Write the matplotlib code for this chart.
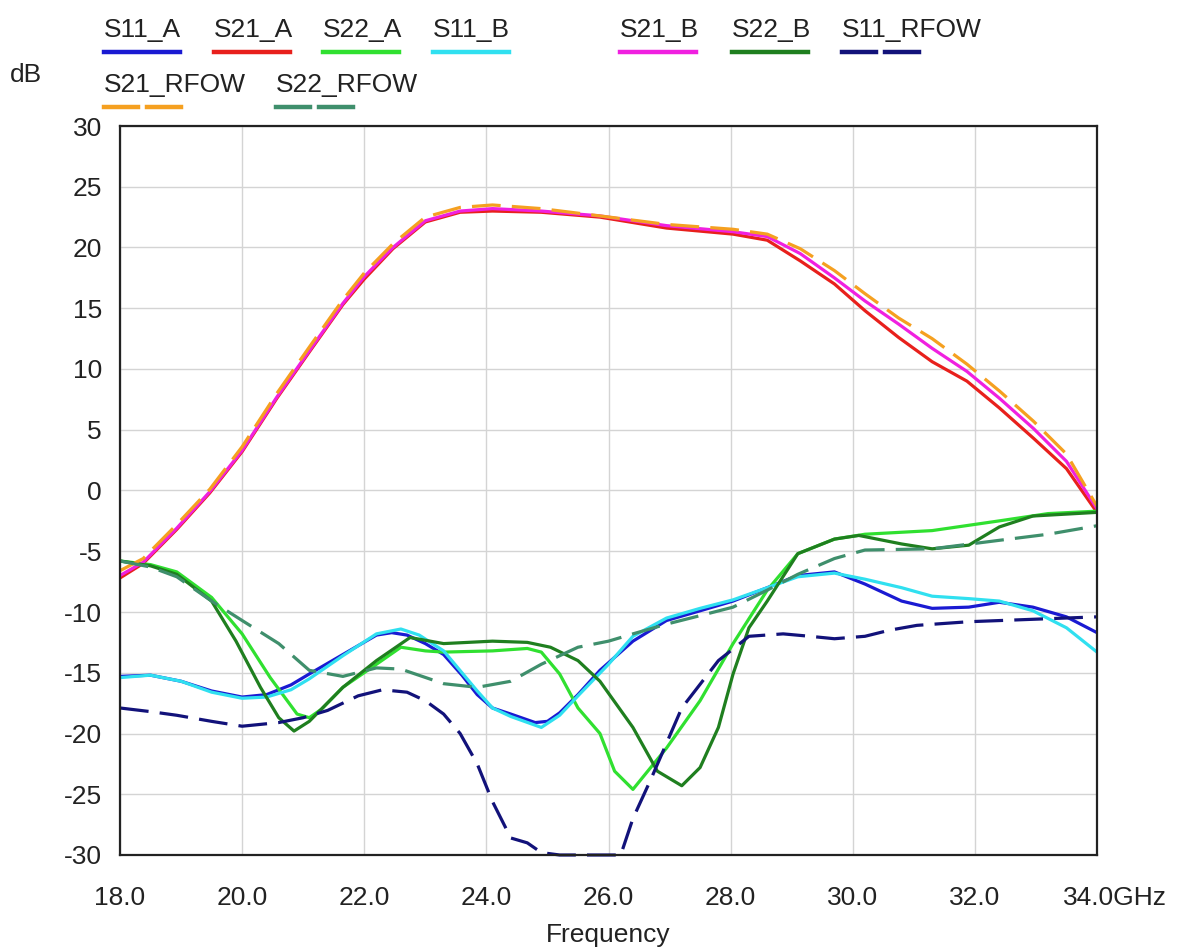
# S-Parameter-Vergleich A / B / RFOW, 18 - 34 GHz.

import matplotlib
matplotlib.use("Agg")
import matplotlib.pyplot as plt  # noqa: E402
from matplotlib.lines import Line2D  # noqa: E402
from matplotlib.transforms import ScaledTranslation  # noqa: E402

plt.rcParams["font.family"] = ["Liberation Sans", "DejaVu Sans"]
plt.rcParams["axes.unicode_minus"] = False

# region daten
f_s11_a = [18.0, 18.5, 19.0, 19.5, 20.0, 20.4, 20.8, 21.1, 21.65, 22.2, 22.45,
           22.7, 23.0, 23.3, 23.6, 23.85, 24.1, 24.4, 24.8, 25.0, 25.2, 25.5,
           25.86, 26.4, 26.95, 27.5, 28.04, 28.6, 29.1, 29.7, 30.2, 30.8, 31.3,
           31.9, 32.4, 32.95, 33.5, 34.0]
s11_a = [-15.3, -15.2, -15.7, -16.5, -17.0, -16.8, -16.0, -15.1, -13.5, -11.9,
         -11.7, -11.9, -12.6, -13.5, -15.2, -16.8, -17.9, -18.4, -19.1, -19.0,
         -18.3, -16.8, -14.8, -12.4, -10.7, -9.9, -9.1, -8.0, -7.0, -6.7, -7.7,
         -9.1, -9.7, -9.6, -9.2, -9.6, -10.4, -11.7]

f_s21 = [18.0, 18.38, 18.93, 19.47, 20.0, 20.57, 21.1, 21.65, 22.0, 22.47,
         23.0, 23.57, 24.1, 24.9, 25.86, 26.95, 28.04, 28.6, 29.14, 29.7,
         30.2, 30.75, 31.3, 31.87, 32.4, 32.96, 33.5, 34.0]
s21_a = [-7.2, -6.0, -3.2, -0.2, 3.2, 7.6, 11.4, 15.3, 17.4, 19.9, 22.1, 22.9,
         23.0, 22.9, 22.5, 21.6, 21.1, 20.6, 18.9, 17.0, 14.8, 12.6, 10.6, 9.0,
         6.8, 4.3, 1.8, -1.8]

f_s22_a = [18.0, 18.5, 18.93, 19.5, 20.0, 20.46, 20.9, 21.1, 21.3, 21.65, 22.2,
           22.6, 23.0, 23.3, 24.1, 24.67, 24.9, 25.2, 25.5, 25.86, 26.1, 26.4,
           26.95, 27.5, 28.04, 28.6, 29.1, 29.7, 30.2, 31.3, 32.4, 33.2, 34.0]
s22_a = [-5.8, -6.1, -6.7, -8.8, -11.8, -15.4, -18.4, -18.7, -18.0, -16.2,
         -14.3, -12.9, -13.2, -13.3, -13.2, -13.0, -13.3, -15.1, -17.9, -20.0,
         -23.1, -24.6, -21.2, -17.3, -12.6, -8.2, -5.2, -4.0, -3.6, -3.3, -2.5,
         -1.9, -1.7]

f_s11_b = [18.0, 18.5, 19.0, 19.5, 20.0, 20.4, 20.8, 21.1, 21.65, 22.2, 22.6,
           22.9, 23.3, 23.6, 23.85, 24.1, 24.4, 24.9, 25.2, 25.5, 25.75, 26.0,
           26.4, 26.95, 27.5, 28.04, 28.6, 29.1, 29.7, 30.2, 30.8, 31.3, 31.9,
           32.4, 32.95, 33.5, 34.0]
s11_b = [-15.4, -15.2, -15.7, -16.6, -17.1, -17.0, -16.4, -15.5, -13.6, -11.8,
         -11.4, -11.9, -13.2, -15.0, -16.5, -17.9, -18.6, -19.5, -18.5, -16.9,
         -15.6, -14.3, -12.0, -10.5, -9.7, -9.0, -8.0, -7.1, -6.8, -7.3, -8.0,
         -8.7, -8.9, -9.1, -9.9, -11.3, -13.3]

s21_b = [-7.0, -5.9, -3.1, -0.1, 3.3, 7.7, 11.5, 15.4, 17.6, 20.0, 22.2, 23.0,
         23.2, 23.0, 22.6, 21.8, 21.3, 20.9, 19.5, 17.5, 15.6, 13.7, 11.7, 9.8,
         7.6, 5.1, 2.4, -1.5]

f_s22_b = [18.0, 18.5, 18.93, 19.5, 19.9, 20.3, 20.6, 20.85, 21.1, 21.65, 22.2,
           22.75, 23.3, 24.1, 24.67, 25.05, 25.5, 25.86, 26.4, 26.8, 27.2, 27.5,
           27.8, 28.04, 28.3, 28.6, 29.1, 29.7, 30.1, 30.8, 31.3, 31.9, 32.4,
           32.95, 34.0]
s22_b = [-5.8, -6.2, -6.9, -9.1, -12.4, -16.2, -18.7, -19.8, -19.0, -16.2,
         -14.0, -12.1, -12.6, -12.4, -12.5, -12.9, -14.0, -15.7, -19.5, -23.1,
         -24.3, -22.8, -19.5, -15.1, -11.3, -9.1, -5.2, -4.0, -3.7, -4.4, -4.8,
         -4.5, -3.0, -2.1, -1.8]

f_s11_rfow = [18.0, 18.5, 18.93, 19.5, 20.0, 20.6, 21.0, 21.4, 21.9, 22.3, 22.7,
              23.0, 23.3, 23.57, 23.85, 24.1, 24.4, 24.67, 24.9, 25.2, 26.2,
              26.4, 26.7, 27.2, 27.8, 28.3, 28.86, 29.3, 29.7, 30.2, 30.6,
              31.05, 31.9, 32.95, 34.0]
s11_rfow = [-17.9, -18.2, -18.5, -19.0, -19.4, -19.1, -18.7, -18.1, -16.9,
            -16.4, -16.6, -17.3, -18.4, -20.0, -22.5, -25.6, -28.6, -29.0,
            -29.8, -30.0, -30.0, -27.0, -23.7, -17.9, -14.0, -12.0, -11.8,
            -12.0, -12.2, -12.0, -11.5, -11.1, -10.8, -10.6, -10.4]

s21_rfow = [-6.6, -5.6, -2.8, 0.1, 3.6, 8.0, 11.8, 15.7, 17.9, 20.3, 22.5, 23.3,
            23.5, 23.2, 22.6, 21.9, 21.5, 21.1, 19.9, 18.1, 16.2, 14.2, 12.5,
            10.4, 8.2, 5.7, 3.0, -1.3]

f_s22_rfow = [18.0, 18.5, 18.93, 19.5, 20.0, 20.6, 21.1, 21.65, 22.2, 22.6,
              23.3, 23.85, 24.4, 24.9, 25.5, 26.0, 26.4, 26.95, 27.5, 28.04,
              28.6, 29.1, 29.7, 30.2, 31.3, 32.4, 33.2, 34.0]
s22_rfow = [-5.8, -6.3, -7.1, -9.1, -10.7, -12.6, -14.8, -15.3, -14.6, -14.7,
            -15.9, -16.2, -15.7, -14.3, -12.9, -12.4, -11.8, -11.0, -10.3,
            -9.6, -8.2, -6.9, -5.6, -4.9, -4.8, -4.1, -3.6, -2.9]

x_ticks = [18, 20, 22, 24, 26, 28, 30, 32, 34]
x_tick_labels = ["18.0", "20.0", "22.0", "24.0", "26.0", "28.0", "30.0",
                 "32.0", "34.0GHz"]
y_ticks = [-30, -25, -20, -15, -10, -5, 0, 5, 10, 15, 20, 25, 30]
# endregion

# Reihenfolge = Zeichenreihenfolge (spätere liegen oben)
kurven = [
    ("S11_A", f_s11_a, s11_a, "#1a1ad2", "-"),
    ("S21_A", f_s21, s21_a, "#e8201c", "-"),
    ("S22_A", f_s22_a, s22_a, "#30e030", "-"),
    ("S11_B", f_s11_b, s11_b, "#30e0f0", "-"),
    ("S21_B", f_s21, s21_b, "#f020e0", "-"),
    ("S22_B", f_s22_b, s22_b, "#1f7f1f", "-"),
    ("S11_RFOW", f_s11_rfow, s11_rfow, "#12127a", "--"),
    ("S21_RFOW", f_s21, s21_rfow, "#f5a020", "--"),
    ("S22_RFOW", f_s22_rfow, s22_rfow, "#3f8f6c", "--"),
]

FS = 19
TXT = "#222222"
W, H = 1192, 951
fig = plt.figure(figsize=(W / 100, H / 100), dpi=100)
ax = fig.add_axes([120 / W, 1 - 855 / H, (1097 - 120) / W, (855 - 126) / H])

LW = 2.3
DASH = (9, 3.5)
for name, xs, ys, farbe, stil in kurven:
    (ln,) = ax.plot(xs, ys, color=farbe, linewidth=LW, linestyle=stil,
                    clip_on=(name != "S11_RFOW"))
    if stil == "--":
        ln.set_dashes(DASH)

ax.set_xlim(18, 34)
ax.set_ylim(-30, 30)
ax.set_xticks(x_ticks)
ax.set_xticklabels(x_tick_labels)
ax.set_yticks(y_ticks)
ax.tick_params(length=0, labelsize=FS, colors=TXT)
ax.tick_params(axis="x", pad=22)
ax.tick_params(axis="y", pad=13)
# "34.0GHz": Zahl soll unter der Gitterlinie stehen, Einheit rechts daneben
last = ax.get_xticklabels()[-1]
last.set_horizontalalignment("left")
last.set_transform(last.get_transform()
                   + ScaledTranslation(-0.34, 0, fig.dpi_scale_trans))

ax.grid(True, color="#d4d4d4", linewidth=1.0)
ax.set_axisbelow(True)
for sp in ax.spines.values():
    sp.set_color(TXT)
    sp.set_linewidth(1.6)

fig.text(608 / W, 1 - 935 / H, "Frequency", ha="center", va="center",
         fontsize=FS, color=TXT)
fig.text(10 / W, 1 - 82 / H, "dB", ha="left", va="baseline",
         fontsize=FS, color=TXT)

# Legende von Hand: Beschriftung über Linienmuster, zwei Zeilen
legende_pos = {
    "S11_A": (104, 0), "S21_A": (214, 0), "S22_A": (323, 0), "S11_B": (433, 0),
    "S21_B": (620, 0), "S22_B": (732, 0), "S11_RFOW": (842, 0),
    "S21_RFOW": (104, 1), "S22_RFOW": (276, 1),
}
for name, xs, ys, farbe, stil in kurven:
    x0, zeile = legende_pos[name]
    y_text = 37 if zeile == 0 else 92
    y_line = 52 if zeile == 0 else 107
    fig.text(x0 / W, 1 - y_text / H, name, ha="left", va="baseline",
             fontsize=FS, color=TXT)
    if stil == "--":
        for a, b in [(x0, x0 + 34), (x0 + 43, x0 + 77)]:
            fig.add_artist(Line2D([a / W, b / W], [1 - y_line / H] * 2,
                                  color=farbe, linewidth=3.2,
                                  transform=fig.transFigure))
    else:
        fig.add_artist(Line2D([x0 / W, (x0 + 76) / W], [1 - y_line / H] * 2,
                              color=farbe, linewidth=3.2,
                              transform=fig.transFigure))

fig.savefig("out.png", dpi=100)
